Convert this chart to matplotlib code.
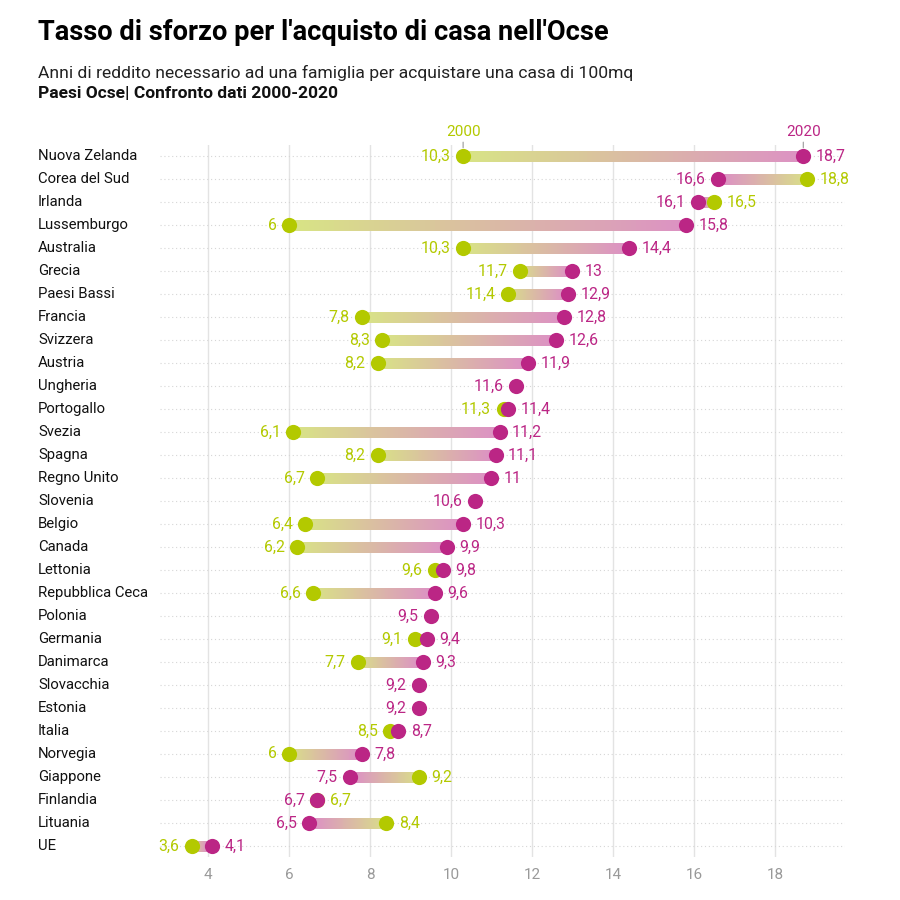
import numpy as np
import matplotlib.pyplot as plt
import matplotlib.transforms as mtransforms
from matplotlib.collections import LineCollection
from matplotlib.colors import to_rgba

plt.rcParams['font.family'] = ['Roboto', 'DejaVu Sans']

# Data
countries = ["Nuova Zelanda", "Corea del Sud", "Irlanda", "Lussemburgo", "Australia",
             "Grecia", "Paesi Bassi", "Francia", "Svizzera", "Austria", "Ungheria",
             "Portogallo", "Svezia", "Spagna", "Regno Unito", "Slovenia", "Belgio",
             "Canada", "Lettonia", "Repubblica Ceca", "Polonia", "Germania", "Danimarca",
             "Slovacchia", "Estonia", "Italia", "Norvegia", "Giappone", "Finlandia",
             "Lituania", "UE"]
val_2000 = [10.3, 18.8, 16.5, 6, 10.3, 11.7, 11.4, 7.8, 8.3, 8.2, np.nan, 11.3, 6.1, 8.2,
            6.7, np.nan, 6.4, 6.2, 9.6, 6.6, np.nan, 9.1, 7.7, np.nan, np.nan, 8.5, 6,
            9.2, 6.7, 8.4, 3.6]
val_2020 = [18.7, 16.6, 16.1, 15.8, 14.4, 13, 12.9, 12.8, 12.6, 11.9, 11.6, 11.4, 11.2,
            11.1, 11, 10.6, 10.3, 9.9, 9.8, 9.6, 9.5, 9.4, 9.3, 9.2, 9.2, 8.7, 7.8, 7.5,
            6.7, 6.5, 4.1]
x_ticks = [4, 6, 8, 10, 12, 14, 16, 18]

GREEN = "#b3c900"
MAGENTA = "#bb2685"
LINE_GREEN = to_rgba("#d8e584")
LINE_PINK = to_rgba("#dc92c3")


def fmt(v):
    if float(v).is_integer():
        return str(int(v))
    return f"{v:.1f}".replace(".", ",")


fig = plt.figure(figsize=(9, 9), dpi=100)
ax = fig.add_axes([160 / 900, 43 / 900, 685 / 900, 712 / 900])
n = len(countries)
ys = np.arange(n)[::-1]

ax.set_xlim(2.815, 19.73)
ax.set_ylim(-0.48, n - 0.52)

for x in x_ticks:
    ax.axvline(x, color="#e3e3e3", lw=1, zorder=0)
for y in ys:
    ax.axhline(y, color="#d6d6d6", lw=0.8, ls=(0, (1, 2.5)), zorder=0)

label_tr = mtransforms.blended_transform_factory(fig.transFigure, ax.transData)

for y, name, a, b in zip(ys, countries, val_2000, val_2020):
    # gradient bar from 2000 to 2020
    if not np.isnan(a) and a != b:
        t = np.linspace(0, 1, 80)
        xs = a + (b - a) * t
        segs = [[(xs[i], y), (xs[i + 1], y)] for i in range(len(xs) - 1)]
        cols = [tuple(LINE_GREEN[k] + (LINE_PINK[k] - LINE_GREEN[k]) * ti for k in range(4))
                for ti in t[:-1]]
        ax.add_collection(LineCollection(segs, colors=cols, linewidths=6.5,
                                         capstyle="projecting", antialiaseds=False,
                                         zorder=1))
    if not np.isnan(a):
        ax.scatter([a], [y], s=120, color=GREEN, zorder=2, lw=0)
    ax.scatter([b], [y], s=120, color=MAGENTA, zorder=3, lw=0)

    # value labels
    if np.isnan(a):
        ax.annotate(fmt(b), (b, y), xytext=(-9, 0), textcoords="offset points",
                    ha="right", va="center", color=MAGENTA, fontsize=11.4)
    else:
        if a < b:
            left, lc, right, rc = a, GREEN, b, MAGENTA
        else:
            left, lc, right, rc = b, MAGENTA, a, GREEN
        ax.annotate(fmt(left), (left, y), xytext=(-9, 0), textcoords="offset points",
                    ha="right", va="center", color=lc, fontsize=11.4)
        ax.annotate(fmt(right), (right, y), xytext=(9, 0), textcoords="offset points",
                    ha="left", va="center", color=rc, fontsize=11.4)

    ax.text(38 / 900, y, name, transform=label_tr, fontsize=10.7,
            color="#111111", ha="left", va="center")

# year annotations on top row
top = ys[0]
ax.annotate("2000", (val_2000[0], top), xytext=(0, 12), textcoords="offset points",
            ha="center", va="bottom", color=GREEN, fontsize=11,
            arrowprops=dict(arrowstyle="-", color="#999999", lw=0.8, shrinkA=0, shrinkB=6))
ax.annotate("2020", (val_2020[0], top), xytext=(0, 12), textcoords="offset points",
            ha="center", va="bottom", color=MAGENTA, fontsize=11,
            arrowprops=dict(arrowstyle="-", color="#999999", lw=0.8, shrinkA=0, shrinkB=6))

ax.set_xticks(x_ticks)
ax.set_xticklabels([str(x) for x in x_ticks])
ax.tick_params(axis="x", length=0, colors="#999999", labelsize=11, pad=8)
ax.set_yticks([])
for s in ax.spines.values():
    s.set_visible(False)

fig.text(38 / 900, 1 - 33 / 900, "Tasso di sforzo per l'acquisto di casa nell'Ocse",
         fontsize=19.6, fontweight="bold", ha="left", va="center", color="#000000")
fig.text(38 / 900, 1 - 73 / 900,
         "Anni di reddito necessario ad una famiglia per acquistare una casa di 100mq",
         fontsize=12.6, ha="left", va="center", color="#222222")
fig.text(38 / 900, 1 - 94 / 900, "Paesi Ocse| Confronto dati 2000-2020",
         fontsize=12.5, fontweight="bold", ha="left", va="center", color="#111111")

fig.savefig("out.png", dpi=100)
